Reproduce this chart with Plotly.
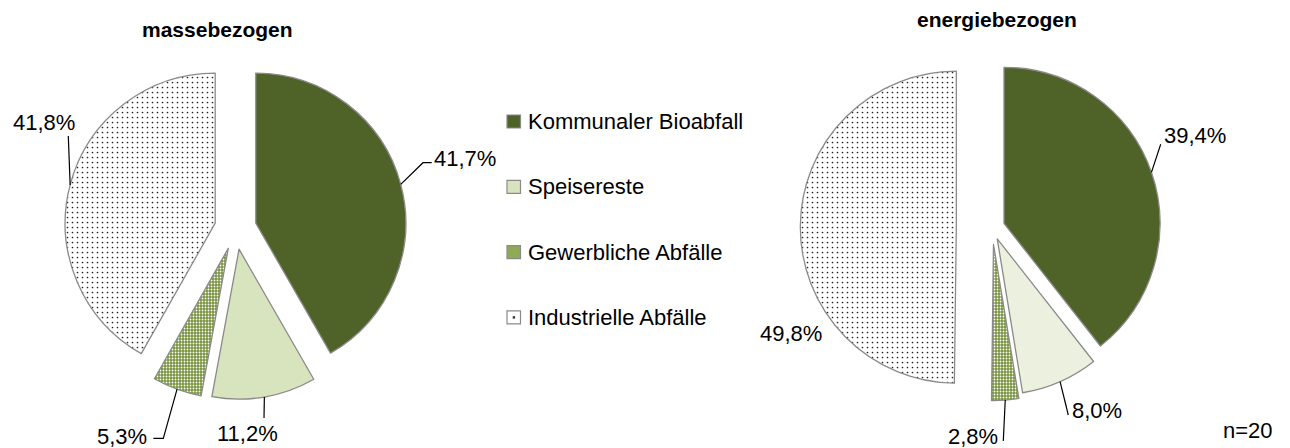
import math
import plotly.graph_objects as go

W, H = 1290, 448

# --- data -------------------------------------------------------------
categories = ["Kommunaler Bioabfall", "Speisereste", "Gewerbliche Abfälle", "Industrielle Abfälle"]
masse_values = [41.7, 11.2, 5.3, 41.8]
energie_values = [39.4, 8.0, 2.8, 49.8]
titles = ["massebezogen", "energiebezogen"]
sample_note = "n=20"

# --- styles -----------------------------------------------------------
colors_masse = ["#4F6228", "#D7E4BD", "#77933C", "#FFFFFF"]
colors_energie = ["#4F6228", "#EBF1DE", "#77933C", "#FFFFFF"]
pattern_shape = ["", "", ".", "."]
pattern_fg = ["#4F6228", "#D7E4BD", "#FFFFFF", "#222222"]
pattern_size = [6, 6, 3, 5]
pattern_solidity = [0.3, 0.3, 0.3, 0.09]
legend_swatch = ["#4F6228", "#D7E4BD", "#8FAA55", "#FFFFFF"]
outline = "#8A8A8A"
FONT = "Liberation Sans, Arial, sans-serif"
LABEL_SIZE = 22

# pie placement in pixels (center, radius) and explode fractions
left_geo = dict(cx=235.5, cy=228.5, r=150, pulls=[0.14, 0.14, 0.14, 0.14])
right_geo = dict(cx=992.2, cy=227.4, r=156, pulls=[0.08, 0.08, 0.11, 0.23])


def px(x, y):
    return x / W, 1 - y / H


def domain_for(g):
    half = g["r"] * (1 + max(g["pulls"]))
    return dict(x=[(g["cx"] - half) / W, (g["cx"] + half) / W],
                y=[1 - (g["cy"] + half) / H, 1 - (g["cy"] - half) / H])


def edge_point(values, idx, g):
    total = sum(values)
    mid = 2 * math.pi * (sum(values[:idx]) + values[idx] / 2) / total
    dist = g["r"] * (1 + g["pulls"][idx])
    return g["cx"] + dist * math.sin(mid), g["cy"] - dist * math.cos(mid)


def make_pie(values, colors, g, name):
    return go.Pie(
        labels=categories, values=values, name=name,
        sort=False, direction="clockwise", rotation=0,
        pull=g["pulls"], domain=domain_for(g),
        textinfo="none", hoverinfo="label+percent", showlegend=False,
        marker=dict(
            colors=colors,
            line=dict(color=outline, width=1.3),
            pattern=dict(shape=pattern_shape, fgcolor=pattern_fg,
                         bgcolor=colors, size=pattern_size,
                         solidity=pattern_solidity, fillmode="replace"),
        ),
    )


fig = go.Figure([
    make_pie(masse_values, colors_masse, left_geo, titles[0]),
    make_pie(energie_values, colors_energie, right_geo, titles[1]),
])


def fmt(v):
    return f"{v:.1f}".replace(".", ",") + "%"


# label layout: leader bend points and text anchor (pixels)
left_labels = [
    dict(path=[(423, 162.7), (431.7, 162.7)], pos=(432, 158), anchor="left"),
    dict(path=[(264, 418)], pos=(247.5, 433), anchor="center"),
    dict(path=[(163.3, 438.3), (153.3, 438.3)], pos=(149, 436), anchor="right"),
    dict(path=[(68.3, 136)], pos=(77, 123), anchor="right"),
]
right_labels = [
    dict(path=[(1160.7, 144.3)], pos=(1162, 135), anchor="left"),
    dict(path=[(1068.3, 415)], pos=(1070, 410), anchor="left"),
    dict(path=[(1003.3, 441)], pos=(1000, 436), anchor="right"),
    dict(path=[], pos=(790.5, 333), anchor="center"),
]

shapes = []
annotations = []
for values, g, specs in [(masse_values, left_geo, left_labels),
                         (energie_values, right_geo, right_labels)]:
    for i, spec in enumerate(specs):
        if spec["path"]:
            pts = [edge_point(values, i, g)] + spec["path"]
            d = "M " + " L ".join(f"{px(x, y)[0]:.5f},{px(x, y)[1]:.5f}" for x, y in pts)
            shapes.append(dict(type="path", path=d, xref="paper", yref="paper",
                               line=dict(color="#000000", width=1.2)))
        ax, ay = px(*spec["pos"])
        annotations.append(dict(text=fmt(values[i]), x=ax, y=ay, xref="paper", yref="paper",
                                xanchor=spec["anchor"], yanchor="middle", showarrow=False,
                                font=dict(family=FONT, size=LABEL_SIZE, color="#000000")))

# titles
for text, (tx, ty) in zip(titles, [(217, 29.5), (997, 20)]):
    x, y = px(tx, ty)
    annotations.append(dict(text=f"<b>{text}</b>", x=x, y=y, xref="paper", yref="paper",
                            xanchor="center", yanchor="middle", showarrow=False,
                            font=dict(family=FONT, size=21, color="#000000")))

# legend
legend_rows = [121.5, 186.8, 252.1, 317.4]
for i, (cat, yc) in enumerate(zip(categories, legend_rows)):
    x0, y0 = px(507, yc - 6.5)
    x1, y1 = px(520.5, yc + 6.5)
    shapes.append(dict(type="rect", x0=x0, x1=x1, y0=y1, y1=y0, xref="paper", yref="paper",
                       fillcolor=legend_swatch[i], line=dict(color=outline, width=1.2)))
    if i == 3:
        dx0, dy0 = px(512.7, yc - 1.2)
        dx1, dy1 = px(515.1, yc + 1.2)
        shapes.append(dict(type="rect", x0=dx0, x1=dx1, y0=dy1, y1=dy0, xref="paper",
                           yref="paper", fillcolor="#333333", line=dict(width=0)))
    tx, ty = px(526, yc)
    annotations.append(dict(text=cat, x=tx, y=ty, xref="paper", yref="paper",
                            xanchor="left", yanchor="middle", showarrow=False,
                            font=dict(family=FONT, size=LABEL_SIZE, color="#000000")))

nx, ny = px(1247.5, 430)
annotations.append(dict(text=sample_note, x=nx, y=ny, xref="paper", yref="paper",
                        xanchor="center", yanchor="middle", showarrow=False,
                        font=dict(family=FONT, size=LABEL_SIZE, color="#000000")))

fig.update_layout(
    width=W, height=H,
    margin=dict(l=0, r=0, t=0, b=0),
    paper_bgcolor="#FFFFFF", plot_bgcolor="#FFFFFF",
    showlegend=False,
    shapes=shapes, annotations=annotations,
)

fig.write_html("out.html")
